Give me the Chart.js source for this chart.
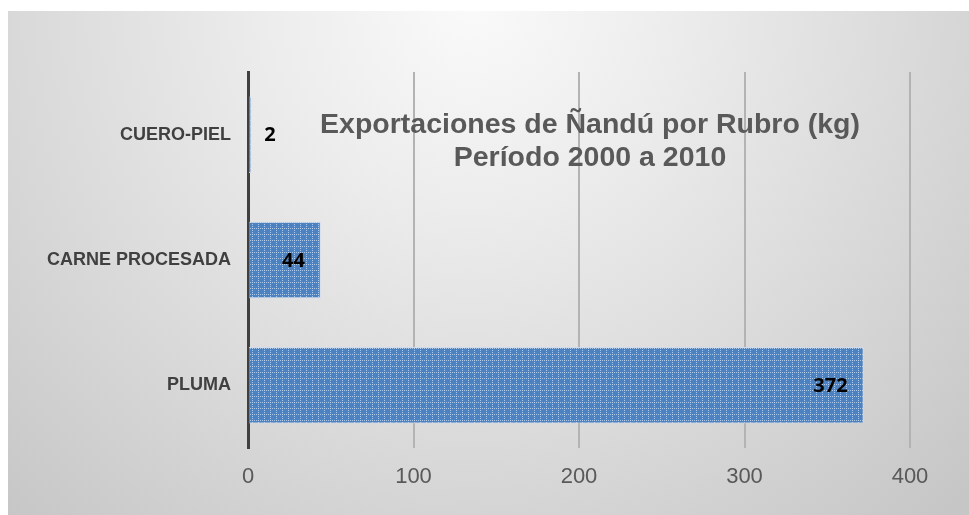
<!DOCTYPE html>
<html>
<head>
<meta charset="utf-8">
<script src="https://cdn.jsdelivr.net/npm/chart.js@4.4.0/dist/chart.umd.min.js"></script>
<style>
  html, body { margin: 0; padding: 0; background: #ffffff; }
  #wrap { width: 969px; height: 515px; }
</style>
</head>
<body>
<div id="wrap"><canvas id="myChart" width="969" height="515"></canvas></div>
<script>
// chart data
var rubros = ['CUERO-PIEL', 'CARNE PROCESADA', 'PLUMA'];
var kilos = [2, 44, 372];
var xTicks = [0, 100, 200, 300, 400];
var titleLines = ['Exportaciones de Ñandú por Rubro (kg)', 'Período 2000 a 2010'];

// small dotted grid pattern for the bars
function barPattern() {
  var c = document.createElement('canvas');
  c.width = 6;
  c.height = 6;
  var g = c.getContext('2d');
  g.fillStyle = '#4d82c0';
  g.fillRect(0, 0, 6, 6);
  g.fillStyle = 'rgba(195,215,240,0.8)';
  for (var i = 0; i < 6; i += 2) {
    g.fillRect(i, 0, 1, 1);
    g.fillRect(0, i, 1, 1);
  }
  return g.createPattern(c, 'repeat');
}

// grey radial background box
var backgroundBox = {
  id: 'backgroundBox',
  beforeDraw: function (chart) {
    var ctx = chart.ctx;
    ctx.save();
    ctx.fillStyle = '#ffffff';
    ctx.fillRect(0, 0, chart.width, chart.height);
    var grad = ctx.createRadialGradient(470, 0, 0, 470, 0, 700);
    grad.addColorStop(0, '#fafafa');
    grad.addColorStop(0.3, '#ececec');
    grad.addColorStop(1, '#c6c6c6');
    ctx.fillStyle = grad;
    ctx.fillRect(8, 11, chart.width - 8, chart.height - 11);
    ctx.restore();
  }
};

// title drawn inside the plot area
var innerTitle = {
  id: 'innerTitle',
  afterDraw: function (chart) {
    var ctx = chart.ctx;
    ctx.save();
    ctx.font = 'bold 28.5px "Liberation Sans", Arial, sans-serif';
    ctx.fillStyle = '#595959';
    ctx.textAlign = 'center';
    ctx.textBaseline = 'middle';
    ctx.fillText(titleLines[0], 590, 125);
    ctx.fillText(titleLines[1], 590, 158);
    ctx.restore();
  }
};

// value labels at the end of each bar
var valueLabels = {
  id: 'valueLabels',
  afterDatasetsDraw: function (chart) {
    var ctx = chart.ctx;
    var meta = chart.getDatasetMeta(0);
    ctx.save();
    ctx.font = 'bold 20px "Open Sans", sans-serif';
    ctx.fillStyle = '#000000';
    ctx.textBaseline = 'middle';
    meta.data.forEach(function (bar, i) {
      var txt = String(kilos[i]);
      var w = ctx.measureText(txt).width;
      if (bar.x - bar.base > w + 32) {
        ctx.textAlign = 'right';
        ctx.fillText(txt, bar.x - 16, bar.y + 1);
      } else {
        ctx.textAlign = 'left';
        ctx.fillText(txt, bar.x + 13, bar.y + 1);
      }
    });
    ctx.restore();
  }
};

new Chart(document.getElementById('myChart').getContext('2d'), {
  type: 'bar',
  data: {
    labels: rubros,
    datasets: [{
      data: kilos,
      backgroundColor: barPattern(),
      borderColor: 'rgba(205,220,238,0.9)',
      borderWidth: 1,
      categoryPercentage: 1,
      barPercentage: 0.61
    }]
  },
  options: {
    indexAxis: 'y',
    responsive: false,
    animation: false,
    layout: { padding: { left: 0, right: 59, top: 72, bottom: 0 } },
    plugins: {
      legend: { display: false },
      title: { display: false },
      tooltip: { enabled: false }
    },
    scales: {
      x: {
        min: 0,
        max: 400,
        afterBuildTicks: function (scale) {
          scale.ticks = xTicks.map(function (v) { return { value: v }; });
        },
        afterFit: function (scale) { scale.height = 67; },
        grid: { color: '#b3b3b3', lineWidth: 2, drawTicks: false },
        border: { display: false },
        ticks: {
          padding: 16,
          color: '#595959',
          font: { family: '"Liberation Sans", Arial, sans-serif', size: 22 }
        }
      },
      y: {
        afterFit: function (scale) { scale.width = 248; },
        grid: { display: false, drawTicks: false },
        border: { display: true, color: '#404040', width: 3 },
        ticks: {
          padding: 17,
          color: '#404040',
          font: { family: '"Liberation Sans", Arial, sans-serif', size: 18, weight: 'bold' }
        }
      }
    }
  },
  plugins: [backgroundBox, innerTitle, valueLabels]
});
</script>
</body>
</html>
